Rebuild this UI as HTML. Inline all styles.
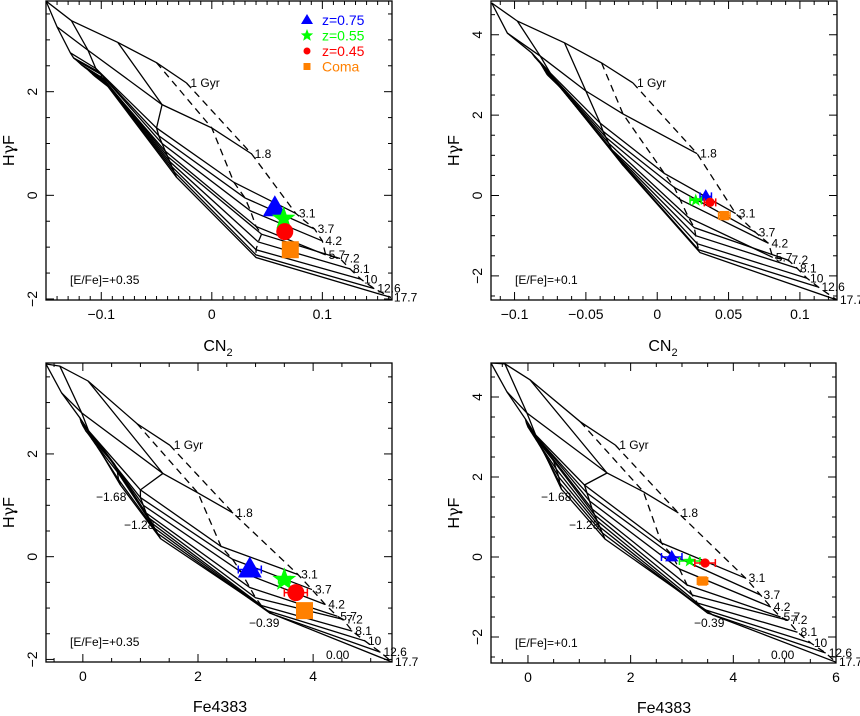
<!DOCTYPE html>
<html><head><meta charset="utf-8"><style>
body{margin:0;background:#fff}svg{display:block;font-family:"Liberation Sans",sans-serif}
</style></head><body>
<svg id="c" width="860" height="716"></svg>
<script>
const ageLabels=["1 Gyr","1.8","3.1","3.7","4.2","5.7","7.2","8.1","10","12.6","17.7"];
const gridTL=[[[-0.150,3.75],[-0.127,3.37],[-0.085,2.95],[-0.050,2.56],[-0.023,2.17]],[[-0.140,3.25],[-0.112,2.80],[-0.045,1.75],[0.000,1.30],[0.036,0.80]],[[-0.128,2.75],[-0.105,2.45],[-0.050,1.30],[0.020,0.25],[0.076,-0.35]],[[-0.125,2.65],[-0.102,2.38],[-0.048,1.15],[0.030,-0.05],[0.093,-0.65]],[[-0.122,2.60],[-0.100,2.33],[-0.045,1.00],[0.035,-0.30],[0.100,-0.88]],[[-0.118,2.52],[-0.100,2.28],[-0.042,0.85],[0.040,-0.60],[0.103,-1.15]],[[-0.115,2.47],[-0.098,2.25],[-0.040,0.75],[0.045,-0.75],[0.116,-1.22]],[[-0.112,2.42],[-0.097,2.22],[-0.038,0.65],[0.042,-0.90],[0.125,-1.42]],[[-0.110,2.38],[-0.096,2.18],[-0.036,0.55],[0.040,-1.05],[0.135,-1.62]],[[-0.108,2.34],[-0.095,2.14],[-0.034,0.45],[0.040,-1.15],[0.147,-1.80]],[[-0.106,2.30],[-0.094,2.10],[-0.032,0.35],[0.040,-1.20],[0.162,-1.97]]];
const gridTR=[[[-0.116,4.79],[-0.098,4.34],[-0.065,3.80],[-0.039,3.30],[-0.017,2.80]],[[-0.105,4.04],[-0.082,3.47],[-0.050,2.60],[-0.024,2.03],[0.028,1.04]],[[-0.088,3.55],[-0.075,3.05],[-0.040,1.80],[0.005,0.55],[0.055,-0.45]],[[-0.086,3.45],[-0.074,2.98],[-0.038,1.60],[0.012,0.20],[0.069,-0.92]],[[-0.084,3.38],[-0.073,2.92],[-0.036,1.45],[0.016,-0.10],[0.078,-1.19]],[[-0.082,3.30],[-0.072,2.86],[-0.034,1.30],[0.022,-0.55],[0.081,-1.54]],[[-0.081,3.24],[-0.071,2.82],[-0.032,1.15],[0.026,-0.80],[0.092,-1.61]],[[-0.080,3.18],[-0.070,2.78],[-0.030,1.05],[0.027,-1.00],[0.098,-1.81]],[[-0.079,3.12],[-0.069,2.74],[-0.028,0.95],[0.028,-1.20],[0.105,-2.06]],[[-0.078,3.06],[-0.068,2.70],[-0.026,0.85],[0.029,-1.35],[0.113,-2.28]],[[-0.077,3.00],[-0.067,2.66],[-0.024,0.75],[0.030,-1.42],[0.126,-2.60]]];
const gridBL=[[[-0.64,3.75],[-0.40,3.71],[0.09,3.42],[0.94,2.59],[1.51,2.17]],[[-0.37,3.19],[-0.02,2.80],[1.39,1.62],[2.0,1.24],[2.61,0.85]],[[-0.05,2.70],[0.10,2.45],[1.0,1.30],[2.4,0.20],[3.74,-0.35]],[[-0.03,2.62],[0.15,2.35],[1.0,1.15],[2.6,-0.05],[3.98,-0.64]],[[0.0,2.55],[0.25,2.25],[1.05,1.00],[2.75,-0.30],[4.21,-0.93]],[[0.05,2.45],[0.35,2.10],[1.1,0.85],[2.9,-0.60],[4.42,-1.16]],[[0.1,2.38],[0.45,1.95],[1.15,0.75],[3.0,-0.80],[4.52,-1.22]],[[0.15,2.30],[0.55,1.80],[1.2,0.65],[3.1,-0.95],[4.68,-1.45]],[[0.2,2.22],[0.6,1.65],[1.25,0.55],[3.2,-1.05],[4.90,-1.64]],[[0.25,2.14],[0.62,1.50],[1.3,0.45],[3.25,-1.10],[5.17,-1.86]],[[0.3,2.06],[0.65,1.40],[1.35,0.35],[3.3,-1.12],[5.37,-2.05]]];
const gridBR=[[[-0.72,4.85],[-0.45,4.83],[0.04,4.43],[1.02,3.38],[1.70,2.80]],[[-0.41,4.13],[-0.02,3.60],[1.54,2.10],[2.25,1.63],[2.93,1.10]],[[-0.05,3.45],[0.15,3.05],[1.1,1.80],[2.6,0.35],[4.24,-0.53]],[[-0.03,3.35],[0.20,2.95],[1.15,1.60],[2.8,0.05],[4.53,-0.95]],[[0.0,3.25],[0.30,2.80],[1.2,1.40],[2.95,-0.30],[4.73,-1.25]],[[0.05,3.15],[0.40,2.60],[1.25,1.20],[3.1,-0.70],[4.92,-1.50]],[[0.1,3.05],[0.50,2.40],[1.3,1.05],[3.2,-0.95],[5.06,-1.58]],[[0.15,2.95],[0.55,2.20],[1.35,0.90],[3.3,-1.15],[5.25,-1.88]],[[0.2,2.85],[0.60,2.00],[1.4,0.75],[3.4,-1.30],[5.51,-2.15]],[[0.25,2.75],[0.62,1.85],[1.45,0.60],[3.5,-1.40],[5.80,-2.40]],[[0.3,2.65],[0.65,1.70],[1.5,0.45],[3.6,-1.45],[6.00,-2.63]]];
const obsTL=[[0.057,-0.25],[0.065,-0.45],[0.066,-0.70],[0.071,-1.05]];
const obsTR=[[0.034,-0.02],[0.027,-0.12],[0.037,-0.17],[0.047,-0.50]];
const obsBL=[[2.90,-0.25],[3.50,-0.45],[3.70,-0.70],[3.85,-1.05]];
const obsBR=[[2.80,0.00],[3.15,-0.10],[3.45,-0.15],[3.40,-0.60]];
const errTR=[0.004,0.004,0.004,0.004];
const errBR=[0.2,0.2,0.2,0.1];
const errBL=[0.2,0.1,0.2,0.1];
const xticksCN=[-0.1,0,0.1];
const xticksCN2=[-0.1,-0.05,0,0.05,0.1];
const xticksFe=[0,2,4];
const xticksFe2=[0,2,4,6];
const yticksA=[-2,0,2];
const yticksB=[-2,0,2,4];
const obsNames=["z=0.75","z=0.55","z=0.45","Coma"];
const obsColors=["#0000ff","#00ff00","#ff0000","#ff8000"];

const NS="http://www.w3.org/2000/svg";
const svg=document.getElementById('c');
function mk(tag,attrs,parent){const e=document.createElementNS(NS,tag);for(const k in attrs)e.setAttribute(k,attrs[k]);(parent||svg).appendChild(e);return e;}
const panels=[
 {id:'tl',L:46,R:392,T:1,B:300,x0:-0.15,x1:0.163,y0:-2.02,y1:3.75,grid:gridTL,obs:obsTL,err:null,big:true,xt:xticksCN,xmin:0.01,yt:yticksA,ymin:0.5,xl:'CN',ef:'[E/Fe]=+0.35',xlab:218,met:false},
 {id:'tr',L:491,R:837,T:1,B:300,x0:-0.1165,x1:0.126,y0:-2.6,y1:4.84,grid:gridTR,obs:obsTR,err:errTR,big:false,xt:xticksCN2,xmin:0.01,yt:yticksB,ymin:0.5,xl:'CN',ef:'[E/Fe]=+0.1',xlab:663,met:false},
 {id:'bl',L:46,R:392,T:363,B:662,x0:-0.64,x1:5.37,y0:-2.05,y1:3.77,grid:gridBL,obs:obsBL,err:errBL,big:true,xt:xticksFe,xmin:0.5,yt:yticksA,ymin:0.5,xl:'Fe',ef:'[E/Fe]=+0.35',xlab:220,met:true},
 {id:'br',L:491,R:836,T:363,B:663,x0:-0.72,x1:6.0,y0:-2.65,y1:4.85,grid:gridBR,obs:obsBR,err:errBR,big:false,xt:xticksFe2,xmin:0.5,yt:yticksB,ymin:0.5,xl:'Fe',ef:'[E/Fe]=+0.1',xlab:664,met:true}];
function fmt(v){return (v<0?'\u2212':'')+String(Math.abs(v));}
panels.forEach(p=>{
 const g=mk('g',{});
 
 
 const sx=v=>p.L+(v-p.x0)/(p.x1-p.x0)*(p.R-p.L);
 const sy=v=>p.B-(v-p.y0)/(p.y1-p.y0)*(p.B-p.T);
 const clip=mk('clipPath',{id:'cl'+p.id},g);mk('rect',{x:p.L,y:p.T,width:p.R-p.L,height:p.B-p.T},clip);
 const gg=mk('g',{'clip-path':'url(#cl'+p.id+')'},g);
 p.grid.forEach((line,i)=>{
  const pl=mk('polyline',{points:line.map(q=>sx(q[0])+','+sy(q[1])).join(' '),fill:'none',stroke:'#000','stroke-width':1.3},gg);
  
  
 });
 for(let j=0;j<5;j++){
  const pl=mk('polyline',{points:p.grid.map(line=>sx(line[j][0])+','+sy(line[j][1])).join(' '),fill:'none',stroke:'#000','stroke-width':1.3,'stroke-dasharray':j>=3?'7,5':'none'},gg);
  
  
 }
 p.grid.forEach((line,i)=>{
  const e=line[4];
  const t=mk('text',{x:sx(e[0])+(i==0?4:3),y:sy(e[1])+4,'font-size':12},g);t.textContent=ageLabels[i];
  
  
 });
 if(p.met){
  [['\u22121.68',p.L+50,p.T+138],['\u22121.28',p.L+78,p.T+166],['\u22120.39',p.L+203,p.T+264],['0.00',p.L+280,p.T+296]].forEach(m=>{
   const t=mk('text',{x:m[1],y:m[2],'font-size':12},g);t.textContent=m[0];
   
   
  });
 }
 const fr=mk('rect',{x:p.L,y:p.T,width:p.R-p.L,height:p.B-p.T,fill:'none',stroke:'#000','stroke-width':1.3},g);
 
 
 const xmaj=p.xt, st=p.xmin;
 for(let v=Math.ceil(p.x0/st)*st;v<=p.x1+1e-9;v+=st){
  const isMaj=xmaj.some(m=>Math.abs(m-v)<st/10);const len=isMaj?8:4;const X=sx(v);
  mk('line',{x1:X,y1:p.B,x2:X,y2:p.B-len,stroke:'#000'},g);mk('line',{x1:X,y1:p.T,x2:X,y2:p.T+len,stroke:'#000'},g);
 }
 xmaj.forEach(v=>{const t=mk('text',{x:sx(v),y:p.B+19,'font-size':14,'text-anchor':'middle'},g);t.textContent=fmt(v);
  
  });
 for(let v=Math.ceil(p.y0/p.ymin)*p.ymin;v<=p.y1+1e-9;v+=p.ymin){
  const isMaj=p.yt.some(m=>Math.abs(m-v)<0.05);const len=isMaj?8:4;const Y=sy(v);
  mk('line',{x1:p.L,y1:Y,x2:p.L+len,y2:Y,stroke:'#000'},g);mk('line',{x1:p.R,y1:Y,x2:p.R-len,y2:Y,stroke:'#000'},g);
 }
 p.yt.forEach(v=>{const Y=sy(v);const X=p.L-9;const t=mk('text',{x:X,y:Y,'font-size':14,'text-anchor':'middle',transform:'rotate(-90 '+X+' '+Y+')'},g);t.textContent=fmt(v);
  
  });
 const yx=p.L-32;
 const yt=mk('text',{x:yx,y:(p.T+p.B)/2,'font-size':16,'text-anchor':'middle',transform:'rotate(-90 '+yx+' '+((p.T+p.B)/2)+')'},g);
 yt.innerHTML='H<tspan font-family="DejaVu Serif">γ</tspan>F';
 
 
 const xt=mk('text',{x:p.xlab,y:p.xl=='CN'?p.B+51:p.B+50,'font-size':16,'text-anchor':'middle'},g);
 xt.innerHTML=p.xl=='CN'?'CN<tspan font-size="11" dy="5">2</tspan>':'Fe4383';
 
 
 const ef=mk('text',{x:p.L+24,y:p.B-16,'font-size':12},g);ef.textContent=p.ef;
 
 
 p.obs.forEach((o,k)=>{
  const X=sx(o[0]),Y=sy(o[1]),c=obsColors[k];const s=p.big?10:5.5;
  if(p.err){const ex=p.err[k];const x1=sx(o[0]-ex),x2=sx(o[0]+ex);
   const eb=mk('path',{d:`M${x1},${Y}H${x2}M${x1},${Y-4}V${Y+4}M${x2},${Y-4}V${Y+4}`,stroke:c,'stroke-width':1.5,fill:'none'},g);
   
   }
  let m;
  if(k==0)m=mk('polygon',{points:`${X},${Y-s*1.3} ${X-s*1.2},${Y+s*0.8} ${X+s*1.2},${Y+s*0.8}`,fill:c},g);
  else if(k==1){let pts=[];for(let i=0;i<10;i++){const r=i%2?s*0.5:s*1.25,a=-Math.PI/2+i*Math.PI/5;pts.push((X+r*Math.cos(a))+','+(Y+r*Math.sin(a)));}m=mk('polygon',{points:pts.join(' '),fill:c},g);}
  else if(k==2)m=mk('circle',{cx:X,cy:Y,r:s*0.85,fill:c},g);
  else m=mk('rect',{x:X-s*0.85,y:Y-s*0.85,width:s*1.7,height:s*1.7,fill:c},g);
  
  
 });
});
const lg=mk('g',{});


obsNames.forEach((n,k)=>{
 const X=307,Y=20+k*15.5,c=obsColors[k];let m;
 if(k==0)m=mk('polygon',{points:`${X},${Y-6} ${X-6},${Y+4} ${X+6},${Y+4}`,fill:c},lg);
 else if(k==1){let pts=[];for(let i=0;i<10;i++){const r=i%2?2.8:6.5,a=-Math.PI/2+i*Math.PI/5;pts.push((X+r*Math.cos(a))+','+(Y+r*Math.sin(a)));}m=mk('polygon',{points:pts.join(' '),fill:c},lg);}
 else if(k==2)m=mk('circle',{cx:X,cy:Y,r:3.5,fill:c},lg);
 else m=mk('rect',{x:X-3.5,y:Y-3.5,width:7,height:7,fill:c},lg);
 
 
 const t=mk('text',{x:322,y:Y+5,'font-size':14,fill:c},lg);t.textContent=n;
 
 
});
</script></body></html>
